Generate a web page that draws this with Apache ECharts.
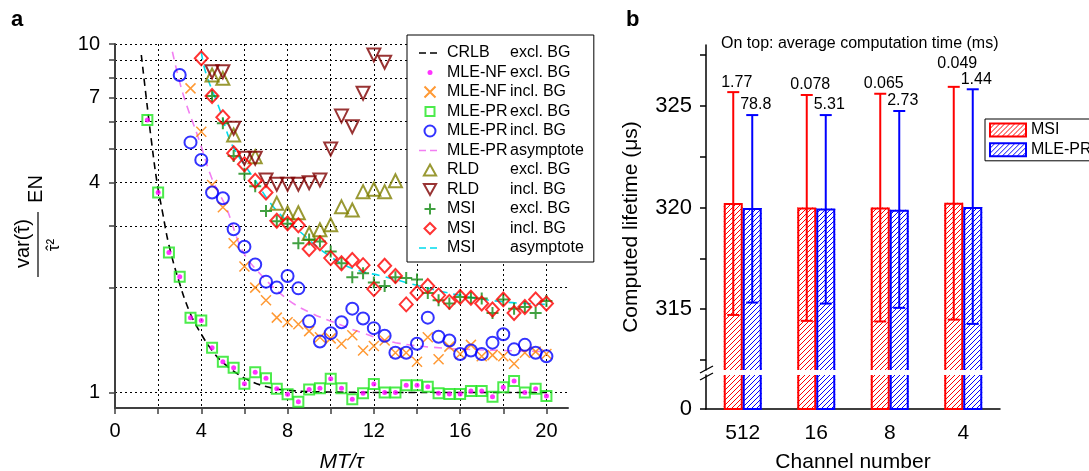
<!DOCTYPE html>
<html><head><meta charset="utf-8">
<script src="https://cdn.jsdelivr.net/npm/echarts@6/dist/echarts.min.js"></script>
<style>html,body{margin:0;padding:0;background:#fff}#c{width:1089px;height:471px}</style>
</head><body><div id="c"></div>
<script>
// ---------- Panel a data ----------
const mt = [1.5,2,2.5,3,3.5,4,4.5,5,5.5,6,6.5,7,7.5,8,8.5,9,9.5,10,10.5,11,11.5,12,12.5,13,13.5,14,14.5,15,15.5,16,16.5,17,17.5,18,18.5,19,19.5,20];
const mleNfExcl = [6.05,3.75,2.52,2.15,1.64,1.61,1.345,1.226,1.178,1.06,1.143,1.098,1.025,0.988,0.941,1.02,1.028,1.095,1.028,0.956,0.995,1.058,1.0,1.0,1.049,1.049,1.039,0.995,0.99,0.99,1.01,1.01,0.973,1.035,1.079,1.0,1.025,0.977];
const mlePrExcl = [6.05,3.75,2.52,2.15,1.64,1.61,1.345,1.226,1.178,1.06,1.143,1.098,1.025,0.988,0.941,1.02,1.028,1.095,1.028,0.956,0.995,1.058,1.0,1.0,1.049,1.049,1.039,0.995,0.99,0.99,1.01,1.01,0.973,1.035,1.079,1.0,1.025,0.977];
const mleNfIncl = [null,null,null,null,7.46,5.6,3.94,3.4,2.68,2.30,2.0,1.84,1.64,1.59,1.57,1.5,1.44,1.43,1.38,1.46,1.32,1.36,1.41,1.30,1.30,1.226,1.44,1.245,1.354,1.29,1.37,1.27,1.28,1.27,1.21,1.30,1.31,1.29];
const mlePrIncl = [null,null,null,8.15,5.22,4.65,3.75,3.61,2.94,2.62,2.33,2.08,2.0,2.16,1.99,1.6,1.40,1.48,1.59,1.74,1.63,1.53,1.455,1.30,1.30,1.38,1.64,1.445,1.41,1.29,1.32,1.29,1.39,1.47,1.33,1.37,1.30,1.27];
const rldExcl = [null,null,null,null,null,null,8.15,7.97,5.48,null,4.75,null,3.49,3.28,3.28,2.86,2.93,3.03,3.41,3.34,3.77,3.83,3.77,4.05,null,null,null,null,null,null,null,null,null,null,null,null,null,null];
const rldIncl = [null,null,null,null,null,null,8.33,8.33,5.73,4.7,4.7,4.07,3.96,3.96,3.96,4.0,4.07,5.0,6.21,5.79,7.22,9.3,8.86,null,null,null,null,null,null,null,null,null,null,null,null,null,null,null];
const msiExcl = [null,null,null,null,null,null,7.09,5.92,4.77,4.24,3.91,3.32,3.1,3.05,2.68,2.75,2.71,2.54,2.35,2.14,2.2,2.07,2.02,2.14,2.13,2.11,1.93,1.84,1.80,1.88,1.87,1.86,1.69,1.85,1.74,1.76,1.69,1.83];
const msiIncl = [null,null,null,null,null,9.1,7.09,6.16,4.86,4.52,4.05,3.75,3.11,3.06,3.02,2.58,2.68,2.43,2.35,2.40,2.32,1.98,2.31,2.16,1.79,1.93,2.02,1.90,1.82,1.88,1.87,1.80,1.73,1.85,1.69,1.76,1.85,1.80];
const crlbX = [1.22,1.45,1.7,1.95,2.2,2.5,3.0,3.5,4.0,4.5,5.0,6.0,7.0,8.0,10,14,20];
const crlbY = [9.3,7.0,5.2,4.0,3.3,2.65,2.05,1.68,1.47,1.32,1.22,1.1,1.04,1.015,1.003,1.0,1.0];
const mleAsymX = [2.66,3.15,3.9,4.5,5.15,5.9,6.7,8.0,9.1,10.5,11.5,13,15.3,18,20];
const mleAsymY = [9.5,7.2,5.3,4.1,3.4,2.56,2.2,1.85,1.69,1.56,1.48,1.39,1.34,1.32,1.31];
const msiAsymX = [4.0,4.2,4.85,5.45,6.4,7.45,8.7,9.8,11,12.5,14,16,18,20];
const msiAsymY = [9.5,8.3,6.5,5.1,4.15,3.35,2.85,2.5,2.27,2.15,2.03,1.9,1.82,1.79];
const xTickVals = [0,2,4,6,8,10,12,14,16,18,20];
const xLabelVals = [0,4,8,12,16,20];
const yGridVals = [1,2,3,4,5,6,7,8,9,10];
const yLabelVals = [1,4,7,10];

// ---------- Panel b data ----------
const channels = ['512','16','8','4'];
const msiLifetime = [320.22,320.0,320.0,320.23];
const msiLow = [314.71,314.42,314.39,314.48];
const msiHigh = [325.68,325.54,325.6,325.94];
const mlePrLifetime = [319.97,319.95,319.89,320.03];
const mlePrLow = [315.32,315.27,315.06,314.27];
const mlePrHigh = [324.55,324.55,324.75,325.82];
const msiTime = ['1.77','0.078','0.065','0.049'];
const mlePrTime = ['78.8','5.31','2.73','1.44'];
const bTickVals = [312.5,315,317.5,320,322.5,325,327.5];
const bLabelVals = [315,320,325];

// ---------- helpers ----------
const FONT = 'Liberation Sans';
const L10 = Math.log10;
function pts(arr){ const o=[]; arr.forEach((v,i)=>{ if(v!=null) o.push([mt[i], L10(v)]); }); return o; }
function linePts(xs, ys){ return xs.map((x,i)=>[x, L10(ys[i])]); }
function hatch(color){
  const c=document.createElement('canvas'); c.width=5; c.height=5;
  const g=c.getContext('2d'); g.strokeStyle=color; g.lineWidth=1;
  g.beginPath(); g.moveTo(-1,6); g.lineTo(6,-1); g.stroke();
  return {image:c, repeat:'repeat'};
}
const RED='#ff0000', BLUE='#0000ff', BAR_W=19;
const T = 'rgba(0,0,0,0)';
const f = (px) => px + 'px "' + FONT + '"';

function scatter(name, data, symbol, size, color, bw){
  return {type:'scatter', name, data:pts(data), xAxisIndex:0, yAxisIndex:0, symbol, symbolSize:size,
    itemStyle:{color:T, borderColor:color, borderWidth:bw}, silent:true};
}
function dline(name, xs, ys, color, dash){
  return {type:'line', name, data:linePts(xs,ys), xAxisIndex:0, yAxisIndex:0, smooth:0.4, symbol:'none', showSymbol:false,
    lineStyle:{color, width:1.6, type:dash}, itemStyle:{color}, silent:true, z:1};
}

const leftSeries = [
  dline('CRLB excl. BG', crlbX, crlbY, '#000000', [7,5]),
  dline('MLE-PR asymptote', mleAsymX, mleAsymY, '#f27ef2', [8,6]),
  dline('MSI asymptote', msiAsymX, msiAsymY, '#00dced', [8,6]),
  scatter('MLE-PR excl. BG', mlePrExcl, 'rect', 10, '#1fe61f', 2),
  scatter('MLE-NF incl. BG', mleNfIncl, 'path://M0,0L10,10M10,0L0,10', 10, '#ff7f00', 1.5),
  scatter('MLE-PR incl. BG', mlePrIncl, 'circle', 12, '#0000ff', 2),
  scatter('RLD excl. BG', rldExcl, 'path://M5,0L10,9L0,9Z', 13, '#808000', 2),
  scatter('RLD incl. BG', rldIncl, 'path://M0,0L10,0L5,9Z', 13, '#800000', 2),
  scatter('MSI excl. BG', msiExcl, 'path://M5,0L5,10M0,5L10,5', 12, '#128a12', 2),
  scatter('MSI incl. BG', msiIncl, 'diamond', [13,14], '#ff0000', 2),
  {type:'scatter', name:'MLE-NF excl. BG', data:pts(mleNfExcl), xAxisIndex:0, yAxisIndex:0, symbol:'circle', symbolSize:5,
    itemStyle:{color:'#ff00ff'}, silent:true}
];

function renderUpper(params, api){
  const i = api.value(0);
  const cs = params.coordSys;
  const bottom = cs.y + cs.height;
  const cx = api.coord([i, api.value(1)])[0];
  const centers = [cx - BAR_W/2, cx + BAR_W/2];
  const vals = [[api.value(1),api.value(2),api.value(3)],[api.value(4),api.value(5),api.value(6)]];
  const cols = [RED, BLUE];
  const times = [msiTime[i], mlePrTime[i]];
  const ch = []; const hiY = [];
  for (let k=0;k<2;k++){
    const x = centers[k];
    const top = api.coord([i, vals[k][0]])[1];
    const lo = api.coord([i, vals[k][1]])[1];
    const hi = api.coord([i, vals[k][2]])[1];
    hiY.push(hi);
    const xl = x - BAR_W/2 + 1, xr = x + BAR_W/2 - 1;
    ch.push({type:'polyline', shape:{points:[[xl,bottom],[xl,top+1],[xr,top+1],[xr,bottom]]}, style:{stroke:cols[k], lineWidth:2, fill:'none'}});
    ch.push({type:'line', shape:{x1:x,y1:lo,x2:x,y2:hi}, style:{stroke:cols[k], lineWidth:2}});
    ch.push({type:'line', shape:{x1:x-6,y1:lo,x2:x+6,y2:lo}, style:{stroke:cols[k], lineWidth:2}});
    ch.push({type:'line', shape:{x1:x-6,y1:hi,x2:x+6,y2:hi}, style:{stroke:cols[k], lineWidth:2}});
  }
  const yMle = hiY[1] - 10;
  const yMsi = Math.min(hiY[0] - 10, yMle - 16);
  const ys = [yMsi, yMle];
  for (let k=0;k<2;k++){
    ch.push({type:'text', x:centers[k]+3.5, y:ys[k], style:{text:times[k], fill:'#000', font:f(16), align:'center', verticalAlign:'middle'}});
  }
  return {type:'group', children:ch};
}
function renderLower(params, api){
  const i = api.value(0);
  const cs = params.coordSys;
  const top = cs.y, bottom = cs.y + cs.height;
  const cx = api.coord([i, 0])[0];
  const centers = [cx - BAR_W/2, cx + BAR_W/2];
  const cols = [RED, BLUE];
  const ch = [];
  for (let k=0;k<2;k++){
    const xl = centers[k] - BAR_W/2 + 1, xr = centers[k] + BAR_W/2 - 1;
    ch.push({type:'polyline', shape:{points:[[xl,top],[xl,bottom],[xr,bottom],[xr,top]]}, style:{stroke:cols[k], lineWidth:2, fill:'none'}});
  }
  return {type:'group', children:ch};
}

const msiFill = hatch(RED), mleFill = hatch(BLUE);
function barS(name, data, fill, gi){
  return {type:'bar', name, data, xAxisIndex:gi, yAxisIndex:gi, barWidth:BAR_W, barGap:'0%',
    itemStyle:{color:fill, borderWidth:0}, silent:true};
}
const rightSeries = [
  barS('MSI', msiLifetime, msiFill, 1), barS('MLE-PR', mlePrLifetime, mleFill, 1),
  barS('MSI', msiLifetime, msiFill, 2), barS('MLE-PR', mlePrLifetime, mleFill, 2),
  {type:'custom', name:'errors', xAxisIndex:1, yAxisIndex:1, renderItem:renderUpper, silent:true, z:5,
   data: channels.map((c,i)=>[i, msiLifetime[i], msiLow[i], msiHigh[i], mlePrLifetime[i], mlePrLow[i], mlePrHigh[i]])},
  {type:'custom', name:'outlineLow', xAxisIndex:2, yAxisIndex:2, renderItem:renderLower, silent:true, z:5,
   data: channels.map((c,i)=>[i, 0])}
];

const axisTxt = {color:'#000', fontFamily:FONT};
const legendNames = ['CRLB excl. BG','MLE-NF excl. BG','MLE-NF incl. BG','MLE-PR excl. BG','MLE-PR incl. BG','MLE-PR asymptote','RLD excl. BG','RLD incl. BG','MSI excl. BG','MSI incl. BG','MSI asymptote'];
const DASH_ICON = 'path://M0,0M24,11M1,4.7h7v1.6h-7zM12,4.7h7v1.6h-7z';
const DOT_ICON = 'path://M0,0M24,11M12,3A2.5,2.5 0 1 1 12,8A2.5,2.5 0 1 1 12,3Z';
const RECT_ICON = 'path://M0,0M24,11M7.5,1h9v9h-9z';
const DIAM_ICON = 'path://M0,0M24,11M12,-0.5L18,5.5L12,11.5L6,5.5Z';

const option = {
  animation:false,
  textStyle:{fontFamily:FONT},
  title:[
    {text:'a', left:6, top:4, textStyle:{fontSize:22, fontWeight:'bold', color:'#000', fontFamily:FONT}},
    {text:'b', left:621, top:4, textStyle:{fontSize:22, fontWeight:'bold', color:'#000', fontFamily:FONT}},
    {text:'On top: average computation time (ms)', left:716, top:31, textStyle:{fontSize:16, fontWeight:'normal', color:'#000', fontFamily:FONT}}
  ],
  grid:[
    {left:115, top:44, width:453, height:364, containLabel:false, outerBoundsMode:'none'},
    {left:706, top:45, width:294, height:325, containLabel:false, outerBoundsMode:'none'},
    {left:706, top:375, width:294, height:34, containLabel:false, outerBoundsMode:'none'}
  ],
  xAxis:[
    {type:'value', gridIndex:0, min:0, max:21,
     name:'MT/τ', nameLocation:'middle', nameGap:44, nameTextStyle:{fontSize:21, fontStyle:'italic', color:'#000'},
     axisLine:{onZero:false, lineStyle:{color:'#404040', width:2}},
     axisTick:{customValues:xTickVals, length:6, lineStyle:{color:'#404040', width:1.5}},
     axisLabel:{customValues:xLabelVals, fontSize:20, margin:13, ...axisTxt},
     splitLine:{show:true, lineStyle:{color:'#000', type:[2,3], width:1}}},
    {type:'category', gridIndex:1, data:channels, show:false},
    {type:'category', gridIndex:2, data:channels,
     name:'Channel number', nameLocation:'middle', nameGap:43, nameTextStyle:{fontSize:21, color:'#000'},
     axisLine:{onZero:false, lineStyle:{color:'#000', width:1.5}},
     axisTick:{alignWithLabel:true, length:6, lineStyle:{color:'#000', width:1.5}},
     axisLabel:{fontSize:21, margin:14, ...axisTxt}}
  ],
  yAxis:[
    {type:'value', gridIndex:0, min:L10(0.9027), max:1,
     axisLine:{show:true, onZero:false, lineStyle:{color:'#404040', width:2}},
     axisTick:{show:true, customValues:yGridVals.map(L10), length:6, lineStyle:{color:'#404040', width:1.5}},
     axisLabel:{customValues:yLabelVals.map(L10), fontSize:20, margin:15, ...axisTxt,
       formatter:(v)=>String(Math.round(Math.pow(10,v)))},
     splitLine:{show:true, lineStyle:{color:'#000', type:[2,3], width:1}}},
    {type:'value', gridIndex:1, min:312, max:328,
     axisLine:{show:true, onZero:false, lineStyle:{color:'#000', width:1.5}},
     axisTick:{show:true, customValues:bTickVals, length:6, lineStyle:{color:'#000', width:1.5}},
     axisLabel:{customValues:bLabelVals, fontSize:22, margin:14, ...axisTxt},
     splitLine:{show:false}},
    {type:'value', gridIndex:2, min:0, max:1,
     axisLine:{show:true, onZero:false, lineStyle:{color:'#000', width:1.5}},
     axisTick:{show:true, customValues:[0], length:6, lineStyle:{color:'#000', width:1.5}},
     axisLabel:{customValues:[0], fontSize:22, margin:14, ...axisTxt},
     splitLine:{show:false}}
  ],
  legend:[
    {orient:'vertical', left:407, top:35, padding:[10,10,6,10], itemGap:3.5, itemWidth:24, itemHeight:11,
     backgroundColor:'#fff', borderColor:'#000', borderWidth:1, selectedMode:false, align:'left',
     data: legendNames.map(n => {
        if (n==='MLE-NF excl. BG') return {name:n, icon:DOT_ICON};
        if (n==='MLE-PR excl. BG') return {name:n, icon:RECT_ICON};
        if (n==='MSI incl. BG') return {name:n, icon:DIAM_ICON};
        if (n==='CRLB excl. BG' || n==='MLE-PR asymptote' || n==='MSI asymptote') return {name:n, icon:DASH_ICON};
        return {name:n};
     }),
     formatter:(n)=>{ const k=n.indexOf(' '); return '{a|'+n.slice(0,k)+'}{b|'+n.slice(k+1)+'}'; },
     textStyle:{fontSize:16, color:'#000', fontFamily:FONT,
       rich:{a:{width:63, fontSize:16, lineHeight:16, fontFamily:FONT, color:'#000'}, b:{fontSize:16, lineHeight:16, fontFamily:FONT, color:'#000'}}}},
    {orient:'vertical', left:985, top:119, padding:[3,4,3,4], itemGap:3.8, itemWidth:36, itemHeight:13,
     backgroundColor:'#fff', borderColor:'#000', borderWidth:1, selectedMode:false, align:'left', icon:'rect',
     data:[{name:'MSI', itemStyle:{borderColor:RED, borderWidth:2}}, {name:'MLE-PR', itemStyle:{borderColor:BLUE, borderWidth:2}}],
     textStyle:{fontSize:16, lineHeight:16, color:'#000', fontFamily:FONT}}
  ],
  graphic:[
    {type:'group', x:38, y:245, rotation:Math.PI/2, children:[
      {type:'text', x:1.5, y:-14.5, style:{text:'var(τ)', fill:'#000', font:f(20), align:'center', verticalAlign:'middle'}},
      {type:'text', x:15.4, y:-15, style:{text:'ˆ', fill:'#000', font:f(20), align:'center', verticalAlign:'middle'}},
      {type:'line', shape:{x1:-32,y1:0,x2:33,y2:0}, style:{stroke:'#000', lineWidth:1.2}},
      {type:'text', x:0, y:16, style:{text:'τ²', fill:'#000', font:f(17), align:'center', verticalAlign:'middle'}},
      {type:'text', x:-2.9, y:15.5, style:{text:'ˆ', fill:'#000', font:f(17), align:'center', verticalAlign:'middle'}},
      {type:'text', x:56, y:-1.5, style:{text:'EN', fill:'#000', font:f(20), align:'center', verticalAlign:'middle'}}
    ]},
    {type:'text', x:631, y:227, rotation:Math.PI/2, style:{text:'Computed lifetime (μs)', fill:'#000', font:f(21), align:'center', verticalAlign:'middle'}},
    {type:'line', shape:{x1:700,y1:373,x2:713,y2:366}, style:{stroke:'#000', lineWidth:1.3}},
    {type:'line', shape:{x1:700,y1:380,x2:713,y2:373}, style:{stroke:'#000', lineWidth:1.3}}
  ],
  series: leftSeries.concat(rightSeries)
};
const chart = echarts.init(document.getElementById('c'), null, {renderer:'canvas'});
chart.setOption(option);
</script></body></html>
